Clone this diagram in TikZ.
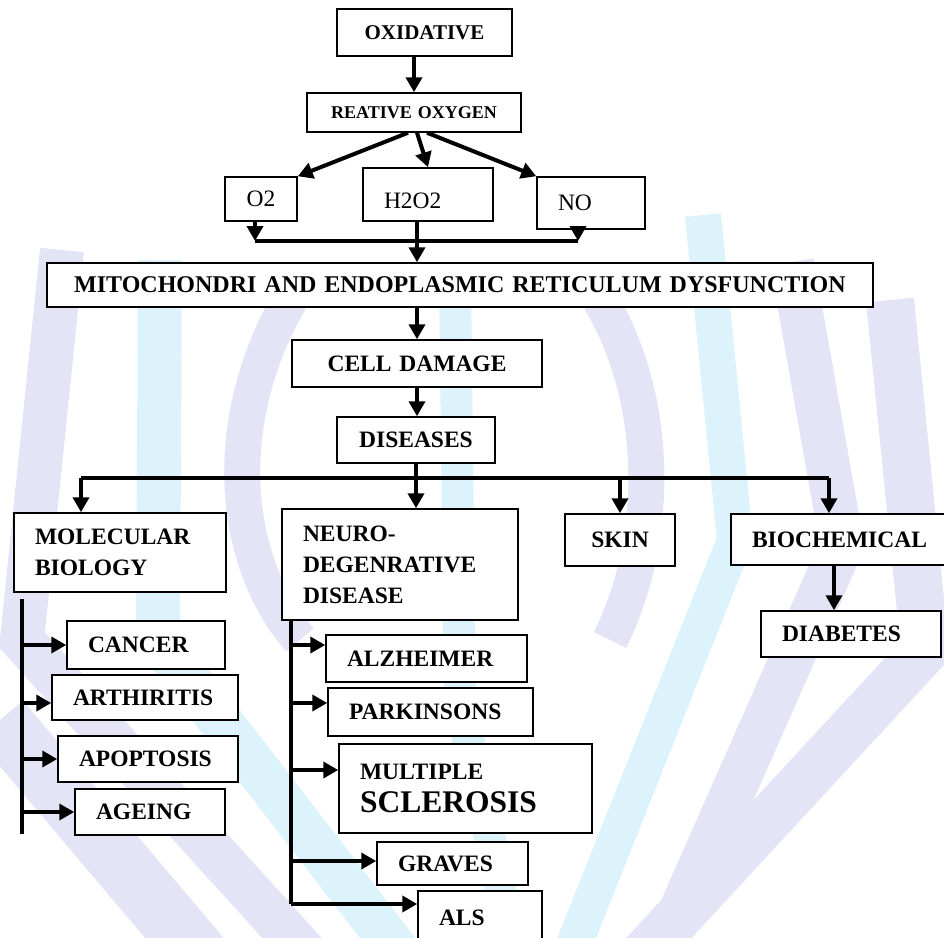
\documentclass[tikz,border=0pt]{standalone}
\usepackage{fontspec}
\setmainfont{Liberation Serif}
\usetikzlibrary{arrows.meta}
\definecolor{wmlilac}{RGB}{228,228,247}
\definecolor{wmcyan}{RGB}{220,243,251}
\begin{document}
\begin{tikzpicture}[x=1pt,y=-1pt,
	every node/.style={draw,line width=1.5pt,fill=white,inner xsep=21pt,inner ysep=0pt,align=left,
		font=\bfseries\fontsize{23.5}{31}\selectfont},
	plain/.style={font=\fontsize{23.5}{28}\selectfont},
	arr/.style={line width=4pt,-{Triangle[length=15pt,width=16pt]}},
	bus/.style={line width=4pt},
	band/.style={line width=#1,line join=miter},
	band/.default=44pt]
\clip (0,0) rectangle (944,937);
\fill[white] (0,0) rectangle (944,937);
\draw[band,wmlilac] (62,250) -- (22,640) -- (330,980);
\draw[band=60pt,wmlilac] (0,720) -- (220,980);
\draw[band,wmcyan] (160,260) -- (158,640) -- (420,980);
\draw[band=48pt,wmlilac] (890,300) -- (925,650) -- (620,980);
\draw[band,wmlilac] (792,262) -- (842,545) -- (650,980);
\draw[band=36pt,wmcyan] (703,215) -- (735,540) -- (560,980);
\draw[band=32pt,wmcyan] (455,280) -- (460,700) -- (520,980);
\draw[band=36pt,wmlilac] (290,300) .. controls (220,420) and (230,560) .. (300,640);
\draw[band=36pt,wmlilac] (600,300) .. controls (660,400) and (660,540) .. (610,640);
\node[text width=133pt,minimum height=47pt,align=center,font=\bfseries\fontsize{21}{25}\selectfont] (oxi) at (424.5,32.5) {OXIDATIVE};
\node[text width=172pt,minimum height=39pt,align=center,font=\bfseries\fontsize{18}{22}\selectfont] (reo) at (414,112.5) {REATIVE OXYGEN};
\node[plain,text width=40pt,inner xsep=16pt,minimum height=44pt,align=center] (o2) at (261,199) {O2};
\node[plain,text width=88pt,text height=28pt,minimum height=53pt] (h2o2) at (428,194.5) {H2O2};
\node[plain,text width=66pt,minimum height=52pt] (no) at (591,203) {NO};
\node[text width=784pt,minimum height=44pt,align=center,font=\bfseries\fontsize{24}{28}\selectfont] (mito) at (460,285) {MITOCHONDRI AND ENDOPLASMIC RETICULUM DYSFUNCTION};
\node[text width=208pt,minimum height=47pt,align=center] (cd) at (417,363.5) {CELL DAMAGE};
\node[text width=116pt,minimum height=46pt,align=center] (dis) at (416,440) {DISEASES};
\node[text width=170pt,minimum height=79pt] (mol) at (120,552.5) {MOLECULAR\\BIOLOGY};
\node[text width=194pt,minimum height=111pt] (neu) at (400,564.5) {NEURO-\\DEGENRATIVE\\DISEASE};
\node[text width=68pt,minimum height=52pt,align=center] (skin) at (620,540) {SKIN};
\node[text width=182pt,minimum height=51pt] (bio) at (843,539.5) {BIOCHEMICAL};
\node[text width=138pt,minimum height=46pt] (dia) at (851,634) {DIABETES};
\node[text width=116pt,minimum height=48pt] (can) at (146,645) {CANCER};
\node[text width=144pt,minimum height=45pt] (art) at (145,697.5) {ARTHIRITIS};
\node[text width=138pt,minimum height=46pt] (apo) at (148,759) {APOPTOSIS};
\node[text width=108pt,minimum height=46pt] (age) at (150,812) {AGEING};
\node[text width=159pt,minimum height=47pt] (alz) at (426.5,658.5) {ALZHEIMER};
\node[text width=163pt,minimum height=48pt] (par) at (430.5,712) {PARKINSONS};
\node[text width=211pt,minimum height=89pt] (mul) at (465.5,788.5) {MULTIPLE\\[2pt]{\fontsize{31.5}{36}\selectfont SCLEROSIS}};
\node[text width=109pt,minimum height=43pt] (gra) at (452.5,863.5) {GRAVES};
\node[text width=82pt,minimum height=54pt] (als) at (480,918) {ALS};
\coordinate (j1) at (417,241);
\coordinate (j2) at (416,478);
\coordinate (bl) at (81,478);
\coordinate (br) at (829,478);
\coordinate (lt) at (22,599);
\coordinate (lb) at (22,834);
\coordinate (nb) at (291,904);
\draw[arr] (oxi.south -| reo) -- (reo);
\draw[arr] ([xshift=-6pt]reo.south) -- (o2.north east);
\draw[arr] ([xshift=3pt]reo.south) -- (h2o2.north);
\draw[arr] ([xshift=13pt]reo.south) -- (no.north west);
\draw[arr] ([xshift=-6pt]o2.south) -- ([xshift=-6pt]o2.south |- j1);
\draw[arr] ([xshift=-13pt]no.south) -- ([xshift=-13pt]no.south |- j1);
\draw[bus] ([xshift=-6pt]o2.south |- j1) -- ([xshift=-13pt]no.south |- j1);
\draw[arr] (h2o2.south -| cd) -- (mito.north -| cd);
\draw[arr] (mito.south -| cd) -- (cd);
\draw[arr] (cd) -- (cd |- dis.north);
\draw[bus] (dis) -- (j2);
\draw[bus] (bl) -- (br);
\draw[arr] (bl) -- (bl |- mol.north);
\draw[arr] (j2) -- (j2 |- neu.north);
\draw[arr] (j2 -| skin) -- (skin);
\draw[arr] (br) -- (br |- bio.north);
\draw[arr] ([xshift=-9pt]bio.south) -- ([xshift=-9pt]bio.south |- dia.north);
\draw[bus] (lt) -- (lb);
\draw[arr] ([yshift=-5.5pt]art.west -| lt) -- ([yshift=-5.5pt]art.west);
\foreach \n in {can,apo,age}
	\draw[arr] (\n.west -| lt) -- (\n.west);
\draw[bus] (neu.south -| nb) -- (nb);
\foreach \n/\s in {alz/13.5,par/9,mul/18.5,gra/2.5,als/14}
	\draw[arr] ([yshift=\s pt]\n.west -| nb) -- ([yshift=\s pt]\n.west);
\end{tikzpicture}
\end{document}
